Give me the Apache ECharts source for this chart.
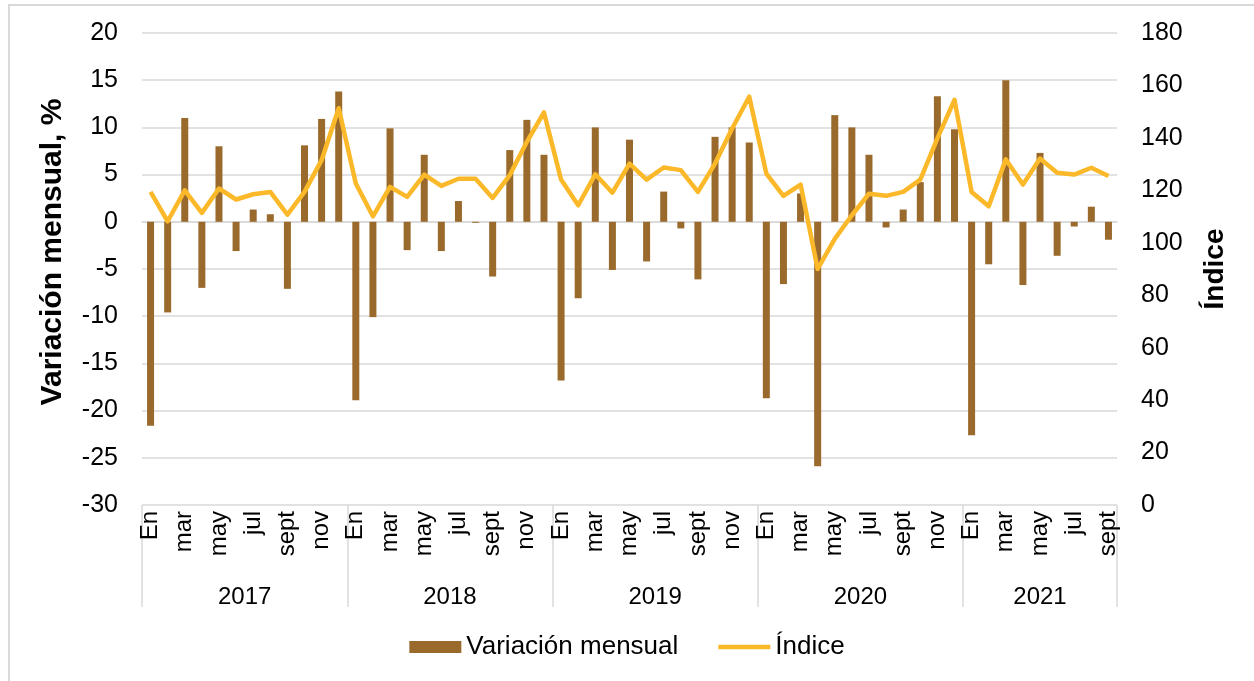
<!DOCTYPE html>
<html>
<head>
<meta charset="utf-8">
<script src="https://cdn.jsdelivr.net/npm/echarts@6/dist/echarts.min.js"></script>
<style>
  html, body { margin: 0; padding: 0; background: #fff; }
  #frame { position: absolute; left: 8px; top: 4px; width: 1260px; height: 690px;
           border-left: 2px solid #d9d9d9; border-top: 2px solid #d9d9d9; }
  #myChart { position: absolute; left: 0; top: 0; width: 1254px; height: 681px; }
</style>
</head>
<body>
<div id="frame"></div>
<div id="myChart"></div>
<script>
var years = ["2017", "2018", "2019", "2020", "2021"];
var monthsPerYear = [12, 12, 12, 12, 9];
var monthNames = ["En", "feb", "mar", "abr", "may", "jun", "jul", "ago", "sept", "oct", "nov", "dic"];

var variacion = [
    -21.6, -9.6, 11.0, -7.0, 8.0, -3.1, 1.3, 0.8, -7.1, 8.1, 10.9, 13.8,
    -18.9, -10.1, 9.9, -3.0, 7.1, -3.1, 2.2, -0.1, -5.8, 7.6, 10.8, 7.1,
    -16.8, -8.1, 10.0, -5.1, 8.7, -4.2, 3.2, -0.7, -6.1, 9.0, 10.0, 8.4,
    -18.7, -6.6, 3.0, -25.9, 11.3, 10.0, 7.1, -0.6, 1.3, 4.2, 13.3, 9.8,
    -22.6, -4.5, 15.0, -6.7, 7.3, -3.6, -0.5, 1.6, -1.9
];
var indice = [
    119.4, 108.2, 120.0, 111.4, 120.7, 116.5, 118.5, 119.4, 110.7, 119.4, 131.5, 151.3,
    122.6, 110.1, 121.3, 117.5, 126.0, 121.7, 124.4, 124.4, 117.1, 125.8, 138.5, 149.7,
    124.1, 114.3, 126.1, 119.1, 130.2, 124.1, 128.7, 127.7, 119.4, 130.2, 143.6, 155.7,
    126.4, 117.9, 122.2, 90.0, 101.5, 110.5, 118.7, 117.9, 119.4, 124.1, 139.8, 154.5,
    119.4, 113.9, 131.8, 122.2, 132.1, 126.7, 126.0, 128.6, 125.5
];

// categorias mes a mes y posiciones de los años
var categorias = [];
var limites = [0];
var centros = [];
var acum = 0;
monthsPerYear.forEach(function (n, i) {
    for (var m = 0; m < n; m++) categorias.push(monthNames[m] + " " + years[i]);
    centros.push(acum + n / 2);
    acum += n;
    limites.push(acum);
});

var font = "Liberation Sans, Arial, sans-serif";
var gris = "#d9d9d9";

var chart = echarts.init(document.getElementById("myChart"));
chart.setOption({
    animation: false,
    textStyle: { fontFamily: font, color: "#000" },
    grid: { left: 142, right: 137, top: 33, bottom: 176 },
    legend: {
        bottom: 16,
        left: "center",
        itemWidth: 52,
        itemHeight: 12,
        itemGap: 40,
        textStyle: { fontSize: 26, color: "#000", fontFamily: font },
        data: [
            { name: "Variación mensual", icon: "rect" },
            { name: "Índice", icon: "path://M0,0L52,0L52,4.5L0,4.5Z" }
        ]
    },
    xAxis: [
        {
            type: "category",
            data: categorias,
            axisLine: { lineStyle: { color: gris, width: 1.5 } },
            axisTick: { show: false },
            axisLabel: {
                interval: 1,
                rotate: 90,
                fontSize: 24,
                color: "#000",
                margin: 6,
                formatter: function (v) { return v.split(" ")[0]; }
            }
        },
        {
            type: "value",
            position: "bottom",
            min: 0,
            max: acum,
            axisLine: { show: false },
            splitLine: { show: false },
            axisTick: {
                show: true,
                customValues: limites,
                length: 102,
                lineStyle: { color: gris, width: 1.5 }
            },
            axisLabel: {
                customValues: centros,
                margin: 80,
                fontSize: 24,
                color: "#000",
                formatter: function (v) { return years[centros.indexOf(v)]; }
            }
        }
    ],
    yAxis: [
        {
            type: "value",
            min: -30,
            max: 20,
            interval: 5,
            name: "Variación mensual, %",
            nameLocation: "middle",
            nameGap: 74,
            nameTextStyle: { fontSize: 30, fontWeight: "bold", color: "#000", fontFamily: font, padding: [0, 0, 0, 34] },
            axisLine: { show: false },
            axisTick: { show: false },
            axisLabel: { fontSize: 25, color: "#000", margin: 24 },
            splitLine: { lineStyle: { color: gris, width: 1.5 } }
        },
        {
            type: "value",
            min: 0,
            max: 180,
            interval: 20,
            name: "Índice",
            nameLocation: "middle",
            nameGap: 84,
            nameTextStyle: { fontSize: 28, fontWeight: "bold", color: "#000", fontFamily: font },
            axisLine: { show: false },
            axisTick: { show: false },
            axisLabel: { fontSize: 25, color: "#000", margin: 24 },
            splitLine: { show: false }
        }
    ],
    series: [
        {
            name: "Variación mensual",
            type: "bar",
            data: variacion,
            barWidth: 7,
            itemStyle: { color: "#996a2c" }
        },
        {
            name: "Índice",
            type: "line",
            yAxisIndex: 1,
            data: indice,
            symbol: "none",
            lineStyle: { color: "#fbb829", width: 4.5, join: "round" },
            itemStyle: { color: "#fbb829" }
        }
    ]
});
</script>
</body>
</html>
